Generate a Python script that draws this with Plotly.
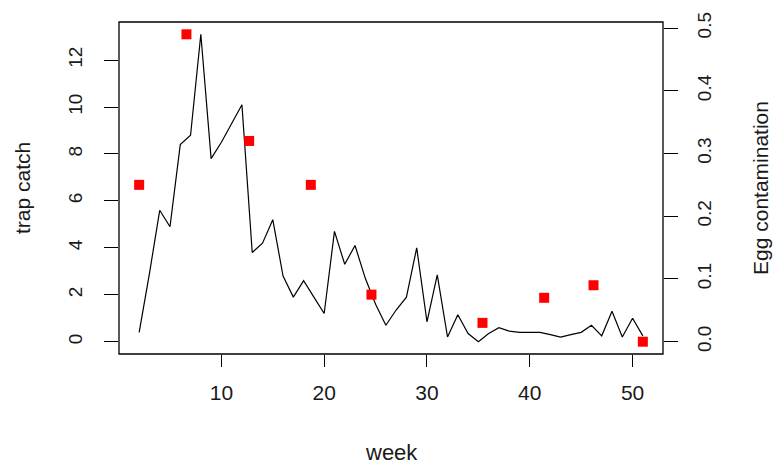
import plotly.graph_objects as go

# Weekly trap catch
weeks = [2, 3, 4, 5, 6, 7, 8, 9, 10, 11,
         12, 13, 14, 15, 16, 17, 18, 19, 20, 21,
         22, 23, 24, 25, 26, 27, 28, 29, 30, 31,
         32, 33, 34, 35, 36, 37, 38, 39, 40, 41,
         42, 43, 44, 45, 46, 47, 48, 49, 50, 51]
trap_catch = [0.4, 2.9, 5.6, 4.9, 8.4, 8.8, 13.1, 7.8, 8.5, 9.3,
              10.1, 3.8, 4.2, 5.2, 2.8, 1.9, 2.6, 1.9, 1.2, 4.7,
              3.3, 4.1, 2.7, 1.6, 0.7, 1.35, 1.9, 4.0, 0.85, 2.85,
              0.2, 1.15, 0.35, 0.0, 0.35, 0.6, 0.45, 0.4, 0.4, 0.4,
              0.3, 0.2, 0.3, 0.4, 0.7, 0.25, 1.3, 0.2, 1.0, 0.25]

# Egg contamination samples
egg_week = [2, 6.6, 12.7, 18.7, 24.6, 35.4, 41.4, 46.2, 51]
egg_contamination = [0.25, 0.49, 0.32, 0.25, 0.075, 0.03, 0.07, 0.09, 0.0]

x_ticks = [10, 20, 30, 40, 50]
left_ticks = [0, 2, 4, 6, 8, 10, 12]
right_ticks = [0.0, 0.1, 0.2, 0.3, 0.4, 0.5]


def padded(values, frac=0.04):
    lo, hi = min(values), max(values)
    d = (hi - lo) * frac
    return [lo - d, hi + d]


FONT = "Liberation Sans, Arial, sans-serif"
INK = "#1a1a1a"

fig = go.Figure()
fig.add_trace(go.Scatter(
    x=weeks, y=trap_catch, mode="lines",
    line=dict(color="black", width=1.2), yaxis="y", showlegend=False,
))
fig.add_trace(go.Scatter(
    x=egg_week, y=egg_contamination, mode="markers",
    marker=dict(symbol="square", size=10, color="#ff0000"),
    yaxis="y2", showlegend=False,
))

axis_common = dict(
    showgrid=False, zeroline=False, showline=False,
    ticks="outside", tickwidth=1.2, tickcolor="black",
)

fig.update_layout(
    width=774, height=465,
    margin=dict(l=119, r=111, t=20, b=111),
    paper_bgcolor="white", plot_bgcolor="white",
    font=dict(family=FONT, color=INK),
    xaxis=dict(
        range=padded(weeks), tickvals=x_ticks, ticklen=12,
        tickfont=dict(size=21, family=FONT, color=INK),
        ticklabelstandoff=8,
        **axis_common,
    ),
    yaxis=dict(
        range=padded(trap_catch), tickvals=left_ticks, tickangle=-90,
        ticklen=14,
        tickfont=dict(size=19, family=FONT, color=INK),
        ticklabelstandoff=14,
        **axis_common,
    ),
    yaxis2=dict(
        range=padded(egg_contamination), tickvals=right_ticks,
        tickformat=".1f", tickangle=-90, side="right", overlaying="y",
        ticklen=14,
        tickfont=dict(size=19, family=FONT, color=INK),
        ticklabelstandoff=10,
        **axis_common,
    ),
    shapes=[dict(type="rect", xref="paper", yref="paper",
                 x0=0, x1=1, y0=0, y1=1,
                 line=dict(color="black", width=1.3))],
    annotations=[
        dict(text="week", xref="paper", yref="paper", x=0.5, y=0,
             yshift=-98, xanchor="center", yanchor="middle",
             showarrow=False, font=dict(size=22, family=FONT, color=INK)),
        dict(text="trap catch", xref="paper", yref="paper", x=0, y=0.5,
             xshift=-97, textangle=-90, xanchor="center", yanchor="middle",
             showarrow=False, font=dict(size=21, family=FONT, color=INK)),
        dict(text="Egg contamination", xref="paper", yref="paper", x=1,
             y=0.5, xshift=97, textangle=-90, xanchor="center",
             yanchor="middle", showarrow=False,
             font=dict(size=21, family=FONT, color=INK)),
    ],
)

fig.write_html("out.html")
